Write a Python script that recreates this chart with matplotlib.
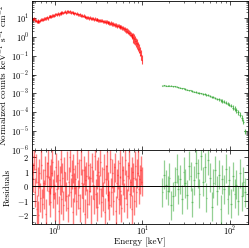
import numpy as np
import matplotlib
matplotlib.use('Agg')
import matplotlib.pyplot as plt
from matplotlib.ticker import LogLocator, NullFormatter

plt.rcParams['font.family'] = ['cmr10', 'DejaVu Serif']
plt.rcParams['mathtext.fontset'] = 'cm'
plt.rcParams['axes.formatter.use_mathtext'] = True
plt.rcParams['font.size'] = 6

# channel grids (keV)
red_energy = np.geomspace(0.55, 9.85, 120)
green_energy = np.geomspace(17.0, 150.0, 48)

# log10 of normalized counts
red_logflux = [
    0.96, 0.93, 0.97, 0.90, 0.86, 0.82, 0.80, 0.85, 0.83, 0.88,
    0.90, 0.93, 0.91, 0.97, 0.95, 1.00, 1.03, 0.99, 1.06, 1.08,
    1.10, 1.07, 1.13, 1.15, 1.12, 1.18, 1.21, 1.17, 1.23, 1.20,
    1.25, 1.28, 1.24, 1.30, 1.27, 1.31, 1.34, 1.29, 1.33, 1.36,
    1.32, 1.35, 1.29, 1.31, 1.27, 1.28, 1.24, 1.26, 1.21, 1.23,
    1.20, 1.16, 1.19, 1.13, 1.15, 1.10, 1.12, 1.06, 1.08, 1.03,
    1.02, 1.05, 0.99, 1.01, 0.97, 0.96, 0.99, 0.93, 0.95, 0.91,
    0.90, 0.93, 0.87, 0.89, 0.86, 0.85, 0.88, 0.82, 0.84, 0.80,
    0.78, 0.81, 0.75, 0.77, 0.73, 0.70, 0.74, 0.68, 0.69, 0.65,
    0.62, 0.65, 0.59, 0.60, 0.56, 0.55, 0.52, 0.53, 0.48, 0.46,
    0.42, 0.40, 0.36, 0.33, 0.28, 0.22, 0.19, 0.12, 0.08, 0.01,
    -0.05, -0.12, -0.20, -0.30, -0.38, -0.50, -0.62, -0.78, -0.95, -1.20,
]
red_logerr_blocks = [0.09, 0.08, 0.07, 0.07, 0.07, 0.07, 0.08, 0.08, 0.09, 0.10, 0.13, 0.25]

green_logflux = [
    -2.58, -2.57, -2.59, -2.58, -2.60, -2.60, -2.62, -2.63, -2.65, -2.67,
    -2.70, -2.72, -2.73, -2.76, -2.79, -2.82, -2.84, -2.87, -2.90, -2.92,
    -2.95, -2.97, -3.00, -3.02, -3.05, -3.08, -3.10, -3.14, -3.17, -3.21,
    -3.25, -3.28, -3.32, -3.35, -3.40, -3.45, -3.50, -3.54, -3.61, -3.66,
    -3.75, -3.80, -3.90, -4.00, -4.12, -4.30, -4.50, -5.00,
]
green_logerr_blocks = [0.03, 0.03, 0.04, 0.05, 0.08, 0.14]

red_resid = [
    1.8, 0.6, 2.1, -0.4, 1.2, -1.6, 0.3, -2.0, 0.9, -0.8,
    1.5, -1.2, 0.2, -0.6, 1.1, -1.9, 0.7, 1.6, -0.3, 0.5,
    -1.1, 0.9, 1.7, -0.5, 0.1, -1.4, 1.3, -0.2, 0.8, -1.7,
    0.4, 1.9, -0.9, 0.6, -1.3, 1.0, 0.0, -0.7, 1.4, -1.5,
    0.3, 2.0, -0.4, 0.8, -1.8, 1.2, -0.1, 0.5, -1.0, 1.6,
    -0.6, 0.9, -1.5, 1.8, 0.2, -0.8, 1.1, -1.9, 0.4, 0.7,
    -1.2, 1.5, -0.3, 0.6, -1.6, 1.3, 0.1, -0.9, 2.1, -0.5,
    0.8, -1.4, 1.0, -0.2, 1.7, -1.1, 0.3, -0.7, 1.2, -1.8,
    0.5, 1.4, -0.6, 0.0, -1.3, 1.9, -0.4, 0.9, -1.0, 0.6,
    1.3, -1.7, 0.2, 0.8, -0.9, 1.6, -0.3, -1.5, 1.1, 0.4,
    -0.8, 1.8, 0.1, -1.2, 0.7, 1.5, -0.5, 0.3, -1.6, 1.0,
    0.6, -1.0, 1.4, -0.4, 0.9, 1.7, -0.2, 0.5, 1.1, 0.3,
]
green_resid = [
    -0.4, 0.8, 0.1, -0.3, 0.6, -1.3, -0.7, 0.3, 1.2, -0.2,
    0.5, -0.9, 1.0, 0.2, -0.6, 1.4, 0.7, -1.1, 0.4, 1.6,
    0.9, -0.5, 2.1, 0.3, 1.3, -0.8, 1.8, 0.6, -1.4, 0.2,
    1.1, -0.3, 0.8, -1.6, 0.5, -0.2, 1.2, -0.9, 0.4, -1.2,
    0.7, -0.5, 0.1, -1.0, 0.9, -0.7, 0.3, -0.4,
]

RED = '#ff0000'
GREEN = '#3caa3c'


def half_widths(e):
    edges = np.sqrt(e[1:] * e[:-1])
    lo = np.concatenate([[e[0] ** 2 / edges[0]], edges])
    hi = np.concatenate([edges, [e[-1] ** 2 / edges[-1]]])
    return np.vstack([e - lo, hi - e])


red_flux = 10 ** np.array(red_logflux)
red_err = np.repeat(red_logerr_blocks, 10)
red_yerr = np.vstack([red_flux * (1 - 10 ** -red_err), red_flux * (10 ** red_err - 1)])
green_flux = 10 ** np.array(green_logflux)
green_err = np.repeat(green_logerr_blocks, 8)
green_yerr = np.vstack([green_flux * (1 - 10 ** -green_err), green_flux * (10 ** green_err - 1)])

fig = plt.figure(figsize=(2.49, 2.48), dpi=100)
ax = fig.add_axes([0.1285, 0.395, 0.866, 0.601])
axr = fig.add_axes([0.1285, 0.097, 0.866, 0.298], sharex=ax)

ax.errorbar(red_energy, red_flux, yerr=red_yerr, xerr=half_widths(red_energy),
            fmt='none', ecolor=RED, elinewidth=0.8, alpha=0.7)
ax.errorbar(green_energy, green_flux, yerr=green_yerr, xerr=half_widths(green_energy),
            fmt='none', ecolor=GREEN, elinewidth=0.8, alpha=0.8)

axr.errorbar(red_energy, red_resid, yerr=1.0, xerr=half_widths(red_energy),
             fmt='none', ecolor=RED, elinewidth=1.0, alpha=0.5)
axr.errorbar(green_energy, green_resid, yerr=1.0, xerr=half_widths(green_energy),
             fmt='none', ecolor=GREEN, elinewidth=0.9, alpha=0.55)
axr.axhline(0, color='black', lw=0.7)

ax.set_xscale('log')
ax.set_yscale('log')
ax.set_xlim(0.55, 160)
ax.set_ylim(1e-6, 80)
axr.set_ylim(-2.6, 2.5)

for a in (ax, axr):
    a.tick_params(which='both', direction='in', top=True, right=True, labelsize=6, pad=2)
    a.tick_params(which='major', length=3, width=0.5)
    a.tick_params(which='minor', length=1.5, width=0.4)
    for s in a.spines.values():
        s.set_linewidth(0.6)
axr.tick_params(axis='x', which='both', pad=0.5)
ax.yaxis.set_major_locator(LogLocator(base=10, numticks=12))
ax.yaxis.set_minor_locator(LogLocator(base=10, subs=np.arange(2, 10), numticks=12))
ax.yaxis.set_minor_formatter(NullFormatter())
ax.tick_params(labelbottom=False)
axr.set_yticks([-2, -1, 0, 1, 2])
axr.set_yticks(np.arange(-2.5, 2.6, 0.5), minor=True)

ax.set_ylabel(r'Normalized counts keV$^{-1}$ s$^{-1}$ cm$^{-2}$', fontsize=6.5, labelpad=1)
axr.set_ylabel('Residuals', fontsize=6.5, labelpad=4)
axr.set_xlabel('Energy [keV]', fontsize=6.5, labelpad=0)

fig.savefig('out.png', dpi=100)
